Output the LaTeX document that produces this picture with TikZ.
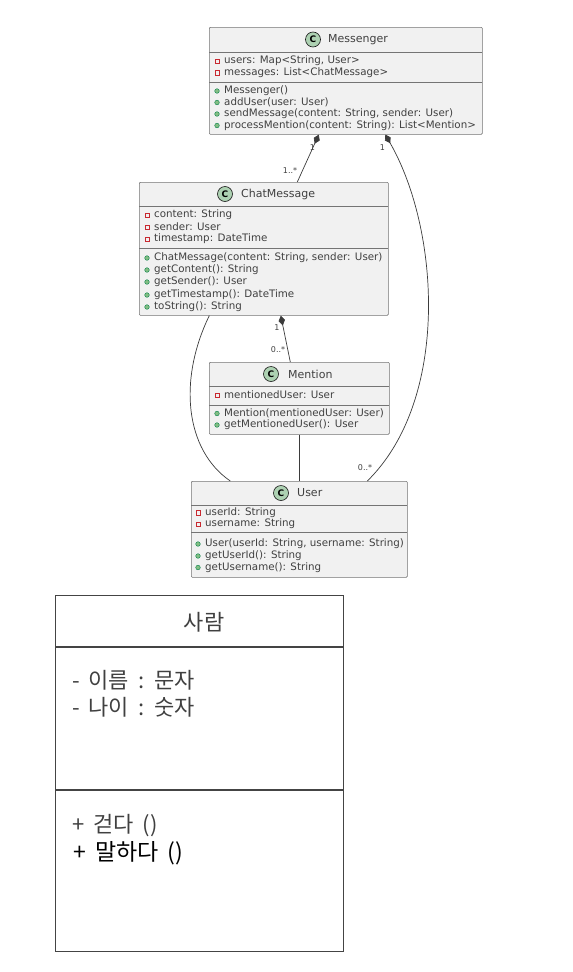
\documentclass[tikz,border=0pt]{standalone}
\usepackage{fontspec}
\setmainfont{DejaVu Sans}
\newfontfamily\kofont[WordSpace=1.8]{Noto Sans CJK KR}
\usetikzlibrary{arrows.meta}
\definecolor{boxfill}{HTML}{F1F1F1}
\definecolor{boxline}{HTML}{181818}
\definecolor{privred}{HTML}{C82930}
\definecolor{pubgreen}{HTML}{038048}
\definecolor{pubfill}{HTML}{84BE84}
\definecolor{iconfill}{HTML}{ADD1B2}
\definecolor{kogray}{HTML}{444444}

\begin{document}
\begin{tikzpicture}[x=1pt,y=-1pt,
    classbox/.style={draw=boxline!60,fill=boxfill,line width=0.6pt,anchor=north west,inner sep=0pt,rounded corners=1pt},
    sep/.style={draw=boxline!60,line width=0.6pt},
    cicon/.style={circle,draw=boxline,fill=iconfill,line width=0.6pt,minimum size=15pt,inner sep=0pt,font=\fontsize{9}{9}\selectfont\bfseries},
    title/.style={anchor=west,font=\fontsize{11}{12}\selectfont,text=black!75,inner sep=0pt},
    member/.style={anchor=west,font=\fontsize{10.3}{11}\selectfont,text=black!75,inner sep=0pt},
    privicon/.style={draw=privred,line width=0.5pt,minimum size=4.5pt,inner sep=0pt},
    pubicon/.style={circle,draw=pubgreen,fill=pubfill,line width=0.4pt,minimum size=4.6pt,inner sep=0pt},
    link/.style={draw=boxline!85,line width=0.7pt},
    comp/.style={link,{Diamond[length=10pt,width=6.5pt]}-},
    mult/.style={font=\fontsize{8}{8}\selectfont,text=black!75,inner sep=0pt},
    kobox/.style={draw=kogray,line width=1.4pt,anchor=north west,inner sep=0pt},
    kotext/.style={anchor=west,font=\kofont\fontsize{22}{24}\selectfont,text=black!75,inner sep=0pt},
  ]
  \useasboundingbox (0,0) rectangle (573,972);

  % Messenger
  \node[classbox,minimum width=273pt,minimum height=107pt] (messenger) at (209,27) {};
  \draw[sep] (209,52) -- (482,52);
  \draw[sep] (209,82) -- (482,82);
  \node[cicon] (messengericon) at (313,39.5) {C};
  \node[title] (messengertitle) at (328,39.5) {Messenger};
  \foreach \y/\txt in {61/{users: Map<String, User>}, 72.5/{messages: List<ChatMessage>}} {
    \node[privicon] at (217,\y) {};
    \node[member] at (224,\y) {\txt};
  }
  \foreach \y/\txt in {91/{Messenger()}, 102.5/{addUser(user: User)},
      114/{sendMessage(content: String, sender: User)},
      125.5/{processMention(content: String): List<Mention>}} {
    \node[pubicon] at (217,\y) {};
    \node[member] at (224,\y) {\txt};
  }

  % ChatMessage
  \node[classbox,minimum width=249pt,minimum height=133pt] (chat) at (139,182) {};
  \draw[sep] (139,206) -- (388,206);
  \draw[sep] (139,248) -- (388,248);
  \node[cicon] (chaticon) at (225,194) {C};
  \node[title] (chattitle) at (241,194) {ChatMessage};
  \foreach \y/\txt in {215/{content: String}, 227/{sender: User}, 239/{timestamp: DateTime}} {
    \node[privicon] at (147,\y) {};
    \node[member] at (154,\y) {\txt};
  }
  \foreach \y/\txt in {258/{ChatMessage(content: String, sender: User)}, 270/{getContent(): String},
      282/{getSender(): User}, 295/{getTimestamp(): DateTime}, 307/{toString(): String}} {
    \node[pubicon] at (147,\y) {};
    \node[member] at (154,\y) {\txt};
  }

  % Mention
  \node[classbox,minimum width=180pt,minimum height=72pt] (mention) at (209,362) {};
  \draw[sep] (209,386) -- (389,386);
  \draw[sep] (209,405) -- (389,405);
  \node[cicon] (mentionicon) at (271,374) {C};
  \node[title] (mentiontitle) at (288,374) {Mention};
  \node[privicon] at (217,395) {};
  \node[member] at (224,395) {mentionedUser: User};
  \foreach \y/\txt in {413.5/{Mention(mentionedUser: User)}, 425/{getMentionedUser(): User}} {
    \node[pubicon] at (217,\y) {};
    \node[member] at (224,\y) {\txt};
  }

  % User
  \node[classbox,minimum width=216pt,minimum height=96pt] (user) at (191,481) {};
  \draw[sep] (191,505) -- (407,505);
  \draw[sep] (191,532) -- (407,532);
  \node[cicon] (usericon) at (281,493) {C};
  \node[title] (usertitle) at (297,493) {User};
  \foreach \y/\txt in {512.5/{userId: String}, 524/{username: String}} {
    \node[privicon] at (198,\y) {};
    \node[member] at (205,\y) {\txt};
  }
  \foreach \y/\txt in {544/{User(userId: String, username: String)}, 556/{getUserId(): String},
      567.5/{getUsername(): String}} {
    \node[pubicon] at (198,\y) {};
    \node[member] at (205,\y) {\txt};
  }

  % Connectors
  \draw[comp] ([xshift=-27pt]messenger.south) -- ([xshift=33.5pt]chat.north);
  \draw[comp] ([xshift=39.5pt]messenger.south) .. controls (440,230) and (450,400) .. ([xshift=68pt]user.north);
  \draw[comp] ([xshift=17pt]chat.south) -- ([xshift=-9pt]mention.north);
  \draw[link] ([xshift=-54.5pt]chat.south) .. controls (178,380) and (185,450) .. ([xshift=-69pt]user.north);
  \draw[link] (mention.south) -- (user.north);

  % Multiplicities
  \node[mult] at (312.5,147.5) {1};
  \node[mult] at (290,171) {1..*};
  \node[mult] at (382.5,147.5) {1};
  \node[mult] at (277,328) {1};
  \node[mult] at (278,350) {0..*};
  \node[mult] at (365,468) {0..*};

  % Korean class box
  \node[kobox,minimum width=288pt,minimum height=356pt] (person) at (55,595) {};
  \draw[kogray,line width=1.4pt] (55,647) -- (343,647);
  \draw[kogray,line width=1.4pt] (55,790) -- (343,790);
  \node[kotext,anchor=center] (persontitle) at (204,622) {사람};
  \node[kotext] at (72,680) {- 이름 : 문자};
  \node[kotext] at (72,707) {- 나이 : 숫자};
  \node[kotext] at (72,826) {+ 걷다 ()};
  \node[kotext,text=black,font=\kofont\fontsize{23}{24}\selectfont] at (73,853) {+ 말하다 ()};
\end{tikzpicture}
\end{document}
